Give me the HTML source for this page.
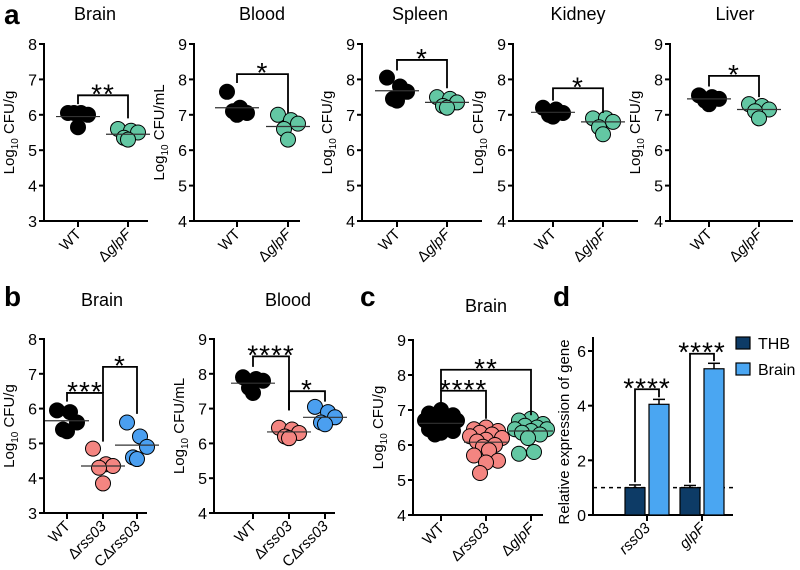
<!DOCTYPE html>
<html><head><meta charset="utf-8"><style>
html,body{margin:0;padding:0;background:#fff;}
svg{display:block;font-family:"Liberation Sans",Arial,sans-serif;}
</style></head><body>
<svg id="fig" width="800" height="570" viewBox="0 0 800 570" xmlns="http://www.w3.org/2000/svg">
<text x="4" y="24" font-size="28" font-weight="bold">a</text>
<text x="4" y="306" font-size="28" font-weight="bold">b</text>
<text x="360" y="306" font-size="28" font-weight="bold">c</text>
<text x="553" y="306" font-size="28" font-weight="bold">d</text>
</svg>
<script>
// ---------- data ----------
const aBrainWT=[6.05,6.05,6.0,6.05,5.65], aBrainGlpF=[5.6,5.55,5.5,5.35,5.3], aBrainMeans=[5.95,5.45];
const aBloodWT=[7.65,7.2,7.05,7.1,7.0], aBloodGlpF=[7.0,6.85,6.75,6.6,6.3], aBloodMeans=[7.2,6.67];
const aSpleenWT=[8.05,7.8,7.65,7.45,7.4], aSpleenGlpF=[7.5,7.45,7.35,7.25,7.2], aSpleenMeans=[7.68,7.35];
const aKidneyWT=[7.2,7.15,7.05,7.0,6.95], aKidneyGlpF=[6.9,6.9,6.8,6.65,6.45], aKidneyMeans=[7.07,6.8];
const aLiverWT=[7.55,7.5,7.45,7.4,7.3], aLiverGlpF=[7.3,7.25,7.15,7.1,6.9], aLiverMeans=[7.45,7.15];
const bBrainWT=[5.95,5.9,5.6,5.4,5.35], bBrainRss=[4.85,4.4,4.35,4.3,3.85], bBrainC=[5.6,5.2,4.9,4.6,4.55], bBrainMeans=[5.65,4.35,4.95];
const bBloodWT=[7.9,7.85,7.8,7.6,7.45], bBloodRss=[6.45,6.4,6.3,6.2,6.15], bBloodC=[7.05,6.9,6.75,6.6,6.55], bBloodMeans=[7.73,6.33,6.75];
const cWT=[7.0,6.9,6.85,6.8,6.75,6.7,6.7,6.65,6.6,6.55,6.5,6.5,6.45,6.4,6.35,6.3];
const cRss=[6.5,6.45,6.4,6.35,6.3,6.25,6.2,6.15,6.1,6.0,5.95,5.85,5.7,5.55,5.5,5.2];
const cGlpF=[6.75,6.7,6.6,6.55,6.5,6.45,6.45,6.4,6.35,6.3,6.2,5.8,5.75];
const cMeans=[6.62,6.08,6.4];
const dGenes=["rss03","glpF"];
const dTHB=[1.0,1.0], dTHBerr=[0.1,0.08];
const dBrain=[4.05,5.35], dBrainErr=[0.18,0.2];
const dTicks=[0,2,4,6];

const NS="http://www.w3.org/2000/svg";
const svg=document.getElementById('fig');
function mk(tag,attrs,parent){const e=document.createElementNS(NS,tag);for(const k in attrs)e.setAttribute(k,attrs[k]);(parent||svg).appendChild(e);return e;}
const BLK="#000",GRN="#63c7a3",PNK="#f48581",BLU="#4b9ff0";
const OFF5=[-10,3,10,-4,0];
const OFF_MANY=[0,-12,12,-6,6,-16,16,0,-9,9,-3,3,-12,12,0,-6];

function scatterPanel(p){
  const g=mk('g',{});
  
  
  const yv=v=>p.y0-(v-p.vmin)*(p.y0-p.y1)/(p.vmax-p.vmin);
  const t=mk('text',{x:p.tx,y:p.ty,'font-size':18,'text-anchor':'middle'},g);t.textContent=p.title;
  
  
  const ya=mk('line',{x1:p.ax,y1:p.y1-1,x2:p.ax,y2:p.y0,stroke:'#000','stroke-width':2},g);
  
  
  const xa=mk('line',{x1:p.ax-1,y1:p.y0,x2:p.xend,y2:p.y0,stroke:'#000','stroke-width':2},g);
  
  
  for(let v=p.vmin;v<=p.vmax;v++){
    mk('line',{x1:p.ax-5,y1:yv(v),x2:p.ax,y2:yv(v),stroke:'#000','stroke-width':2},g);
    const tl=mk('text',{x:p.ax-7,y:yv(v)+6,'font-size':16,'text-anchor':'end'},g);tl.textContent=v;
    
    
  }
  const ylx=p.ax-30, ylc=(p.y0+p.y1)/2;
  const yl=mk('text',{x:ylx,y:ylc,'font-size':15,'text-anchor':'middle',transform:`rotate(-90 ${ylx} ${ylc})`},g);
  yl.innerHTML='Log<tspan font-size="10" dy="4">10</tspan><tspan dy="-4"> '+p.ylabel+'</tspan>';
  
  
  p.cats.forEach((c,i)=>{
    const cx=p.cx[i];
    mk('line',{x1:cx,y1:p.y0,x2:cx,y2:p.y0+6,stroke:'#000','stroke-width':2},g);
    const lx=cx+4,ly=p.y0+14;
    const lab=mk('text',{x:lx,y:ly,'font-size':15,'text-anchor':'end',transform:`rotate(-45 ${lx} ${ly})`},g);
    lab.innerHTML=c;
    
    
    const vals=p.data[i];
    const n=vals.length;
    vals.forEach((v,j)=>{
      const off=n<=5?OFF5[j]:OFF_MANY[j%OFF_MANY.length];
      const pt=mk('circle',{cx:cx+off,cy:yv(v),r:p.r||7.5,fill:p.colors[i],stroke:'#000','stroke-width':1},g);
      
      
    });
    const ml=mk('line',{x1:cx-22,y1:yv(p.means[i]),x2:cx+22,y2:yv(p.means[i]),stroke:'#333','stroke-width':1.2},g);
    
    
  });
  (p.br||[]).forEach(b=>{
    const x1=p.cx[b[0]],x2=p.cx[b[1]],top=yv(b[2]);
    const pl=mk('polyline',{points:`${x1},${yv(b[3])} ${x1},${top} ${x2},${top} ${x2},${yv(b[4])}`,fill:'none',stroke:'#000','stroke-width':1.8},g);
    
    
    const st=mk('text',{x:(x1+x2)/2,y:top+8,'font-size':28,'text-anchor':'middle','letter-spacing':'1'},g);
    st.textContent=b[5];
    
    
  });
}
const G='&#916;<tspan font-style="italic">glpF</tspan>', R='&#916;<tspan font-style="italic">rss03</tspan>', CR='C&#916;<tspan font-style="italic">rss03</tspan>';
scatterPanel({name:'a-brain',title:'Brain',tx:95,ty:20,ax:44,xend:148,y0:221,y1:44,vmin:3,vmax:8,ylabel:'CFU/g',cats:['WT',G],cx:[78,128],data:[aBrainWT,aBrainGlpF],means:aBrainMeans,colors:[BLK,GRN],br:[[0,1,6.55,6.3,5.9,'**']]});
scatterPanel({name:'a-blood',title:'Blood',tx:262,ty:20,ax:194,xend:300,y0:221,y1:44,vmin:4,vmax:9,ylabel:'CFU/mL',cats:['WT',G],cx:[237,288],data:[aBloodWT,aBloodGlpF],means:aBloodMeans,colors:[BLK,GRN],br:[[0,1,8.15,7.9,7.05,'*']]});
scatterPanel({name:'a-spleen',title:'Spleen',tx:420,ty:20,ax:362,xend:482,y0:221,y1:44,vmin:4,vmax:9,ylabel:'CFU/g',cats:['WT',G],cx:[397,447],data:[aSpleenWT,aSpleenGlpF],means:aSpleenMeans,colors:[BLK,GRN],br:[[0,1,8.55,8.25,7.75,'*']]});
scatterPanel({name:'a-kidney',title:'Kidney',tx:578,ty:20,ax:513,xend:638,y0:221,y1:44,vmin:4,vmax:9,ylabel:'CFU/g',cats:['WT',G],cx:[553,603],data:[aKidneyWT,aKidneyGlpF],means:aKidneyMeans,colors:[BLK,GRN],br:[[0,1,7.75,7.4,7.05,'*']]});
scatterPanel({name:'a-liver',title:'Liver',tx:735,ty:20,ax:670,xend:793,y0:221,y1:44,vmin:4,vmax:9,ylabel:'CFU/g',cats:['WT',G],cx:[709,759],data:[aLiverWT,aLiverGlpF],means:aLiverMeans,colors:[BLK,GRN],br:[[0,1,8.1,7.8,7.5,'*']]});
scatterPanel({name:'b-brain',title:'Brain',tx:102,ty:306,ax:44,xend:147,y0:513,y1:339,vmin:3,vmax:8,ylabel:'CFU/g',cats:['WT',R,CR],cx:[67,103,137],data:[bBrainWT,bBrainRss,bBrainC],means:bBrainMeans,colors:[BLK,PNK,BLU],br:[[0,1,6.45,6.2,5.05,'***'],[1,2,7.2,6.45,5.85,'*']]});
scatterPanel({name:'b-blood',title:'Blood',tx:288,ty:306,ax:214,xend:335,y0:513,y1:339,vmin:4,vmax:9,ylabel:'CFU/mL',cats:['WT',R,CR],cx:[253,289,325],data:[bBloodWT,bBloodRss,bBloodC],means:bBloodMeans,colors:[BLK,PNK,BLU],br:[[0,1,8.5,8.2,6.95,'****'],[1,2,7.5,6.95,7.2,'*']]});
scatterPanel({name:'c-brain',title:'Brain',tx:486,ty:312,ax:413,xend:543,y0:515,y1:340,vmin:4,vmax:9,ylabel:'CFU/g',cats:['WT',R,G],cx:[441,486,531],data:[cWT,cRss,cGlpF],means:cMeans,colors:[BLK,PNK,GRN],br:[[0,1,7.55,7.2,6.75,'****'],[0,2,8.15,7.55,6.85,'**']]});

// ---------- panel d ----------
(function(){
  const g=mk('g',{});
  
  
  const ax=593,xend=733,y0=515,y1=351,vmax=6;
  const yv=v=>y0-v*(y0-y1)/vmax;
  const catX=i=>647+i*55;
  mk('line',{x1:ax,y1:y1-14,x2:ax,y2:y0,stroke:'#000','stroke-width':2},g);
  mk('line',{x1:ax-1,y1:y0,x2:xend,y2:y0,stroke:'#000','stroke-width':2},g);
  dTicks.forEach(v=>{
    mk('line',{x1:ax-5,y1:yv(v),x2:ax,y2:yv(v),stroke:'#000','stroke-width':2},g);
    const t=mk('text',{x:ax-7,y:yv(v)+6,'font-size':16,'text-anchor':'end'},g);t.textContent=v;
    
    
  });
  const yl=mk('text',{x:ax-24,y:432,'font-size':15,'text-anchor':'middle',transform:`rotate(-90 ${ax-24} 432)`},g);
  yl.textContent='Relative expression of gene';
  
  
  const dl=mk('line',{x1:ax,y1:yv(1),x2:xend,y2:yv(1),stroke:'#000','stroke-width':1.5,'stroke-dasharray':'4,4'},g);
  
  
  dGenes.forEach((gn,i)=>{
    const cx=catX(i);
    mk('line',{x1:cx,y1:y0,x2:cx,y2:y0+6,stroke:'#000','stroke-width':2},g);
    const lab=mk('text',{x:cx+4,y:y0+14,'font-size':15,'font-style':'italic','text-anchor':'end',transform:`rotate(-45 ${cx+4} ${y0+14})`},g);
    lab.textContent=gn;
    
    
    [[dTHB,dTHBerr,'#0d3b66',-12],[dBrain,dBrainErr,'#4aa6f2',12]].forEach(s=>{
      const bx=cx+s[3],v=s[0][i],e=s[1][i];
      const r=mk('rect',{x:bx-10,y:yv(v),width:20,height:y0-yv(v),fill:s[2],stroke:'#000','stroke-width':1.2},g);
      
      
      mk('line',{x1:bx,y1:yv(v),x2:bx,y2:yv(v+e),stroke:'#000','stroke-width':1.5},g);
      mk('line',{x1:bx-6,y1:yv(v+e),x2:bx+6,y2:yv(v+e),stroke:'#000','stroke-width':1.5},g);
    });
    const top=yv(dBrain[i]+0.55), l=yv(dTHB[i]+dTHBerr[i]+0.1), rr=yv(dBrain[i]+dBrainErr[i]+0.08);
    const pl=mk('polyline',{points:`${cx-12},${l} ${cx-12},${top} ${cx+12},${top} ${cx+12},${rr}`,fill:'none',stroke:'#000','stroke-width':1.8},g);
    
    
    const st=mk('text',{x:cx,y:top+8,'font-size':28,'text-anchor':'middle','letter-spacing':'1'},g);
    st.textContent='****';
    
    
  });
  [['THB','#0d3b66',343],['Brain','#4aa6f2',369]].forEach(L=>{
    const r=mk('rect',{x:736,y:L[2]-6,width:14,height:12,fill:L[1],stroke:'#000','stroke-width':1.2},g);
    
    
    const t=mk('text',{x:758,y:L[2]+6,'font-size':16},g);t.textContent=L[0];
    
    
  });
})();
</script>
</body></html>
